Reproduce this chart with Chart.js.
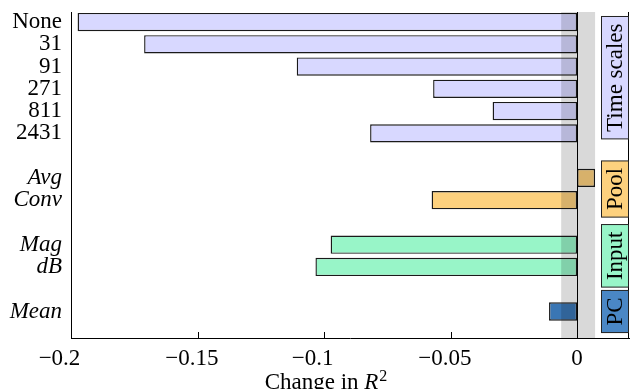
<!DOCTYPE html>
<html>
<head>
<meta charset="utf-8">
<script src="https://cdn.jsdelivr.net/npm/chart.js@4.4.0/dist/chart.umd.min.js"></script>
<style>
  html, body { margin: 0; padding: 0; background: #fff; }
  #wrap { width: 630px; height: 389px; }
</style>
</head>
<body>
<div id="wrap"><canvas id="r2_chart"></canvas></div>
<script>
const categories = ['None', '31', '91', '271', '811', '2431', 'Avg', 'Conv', 'Mag', 'dB', 'Mean'];
const changeR2 = [-0.1974, -0.1711, -0.1108, -0.0569, -0.0334, -0.0818, 0.0071, -0.0575, -0.0974, -0.1034, -0.0111];
const groupOf = [0, 0, 0, 0, 0, 0, 1, 1, 2, 2, 3];
const groupNames = ['Time scales', 'Pool', 'Input', 'PC'];
const barColors = ['#d8d8ff', '#fdd17e', '#98f5c8', '#3a76b4'];
const boxColors = ['#d8d8ff', '#fdd17e', '#98f5c8', '#4a87c5'];
const italicFrom = 6;
const xTicks = [-0.2, -0.15, -0.1, -0.05, 0];
const baseBand = [-0.0063, 0.0071];

const FONT = '"Liberation Serif", "Times New Roman", serif';
const FS = 23;

// one blank row between groups
const rows = categories.map((c, i) => i + groupOf[i]);

const extras = {
  id: 'extras',
  afterDatasetsDraw(chart) {
    const {ctx, chartArea: a, scales: {x, y}} = chart;
    ctx.save();

    // shaded band round zero, drawn over the bars
    const b0 = x.getPixelForValue(baseBand[0]);
    const b1 = x.getPixelForValue(baseBand[1]);
    ctx.fillStyle = 'rgba(0,0,0,0.15)';
    ctx.fillRect(b0, a.top, b1 - b0, a.bottom - a.top);

    ctx.strokeStyle = '#000';
    ctx.lineWidth = 1;
    const x0 = Math.round(x.getPixelForValue(0)) + 0.5;
    ctx.beginPath();
    ctx.moveTo(x0, a.top);
    ctx.lineTo(x0, a.bottom);
    // right spine
    ctx.moveTo(Math.round(a.right) - 0.5, a.top);
    ctx.lineTo(Math.round(a.right) - 0.5, a.bottom);
    // inward ticks
    xTicks.forEach(v => {
      const px = Math.round(x.getPixelForValue(v)) + 0.5;
      ctx.moveTo(px, a.bottom);
      ctx.lineTo(px, a.bottom - 6);
    });
    ctx.stroke();

    // group labels
    ctx.font = FS + 'px ' + FONT;
    groupNames.forEach((name, g) => {
      const r = rows.filter((v, i) => groupOf[i] === g);
      const yc = (y.getPixelForValue(Math.min(...r)) + y.getPixelForValue(Math.max(...r))) / 2;
      const h = ctx.measureText(name).width + 14;
      const bw = 27;
      const bx = Math.round(a.right) - bw - 0.5;
      ctx.fillStyle = boxColors[g];
      ctx.fillRect(bx, yc - h / 2, bw, h);
      ctx.strokeStyle = '#222';
      ctx.strokeRect(bx, yc - h / 2, bw, h);
      ctx.save();
      ctx.translate(bx + bw / 2 + 1, yc);
      ctx.rotate(-Math.PI / 2);
      ctx.fillStyle = '#000';
      ctx.textAlign = 'center';
      ctx.textBaseline = 'middle';
      ctx.fillText(name, 0, 0);
      ctx.restore();
    });

    // x axis title: Change in R^2
    const cx = a.left + (a.right - a.left) * 0.457;
    const base = 389;
    const p1 = 'Change in ';
    ctx.font = FS + 'px ' + FONT;
    const w1 = ctx.measureText(p1).width;
    ctx.font = 'italic ' + FS + 'px ' + FONT;
    const w2 = ctx.measureText('R').width;
    ctx.font = '16px ' + FONT;
    const w3 = ctx.measureText('2').width;
    let sx = cx - (w1 + w2 + w3 + 1) / 2;
    ctx.fillStyle = '#000';
    ctx.textAlign = 'left';
    ctx.textBaseline = 'alphabetic';
    ctx.font = FS + 'px ' + FONT;
    ctx.fillText(p1, sx, base);
    sx += w1;
    ctx.font = 'italic ' + FS + 'px ' + FONT;
    ctx.fillText('R', sx, base);
    sx += w2 + 1;
    ctx.font = '16px ' + FONT;
    ctx.fillText('2', sx, base - 8);

    ctx.restore();
  }
};

const ctx = document.getElementById('r2_chart');

new Chart(ctx, {
  type: 'bar',
  data: {
    datasets: [{
      data: changeR2.map((v, i) => ({x: v, y: rows[i]})),
      backgroundColor: groupOf.map(g => barColors[g]),
      borderColor: '#1a1a1a',
      borderWidth: 1.4,
      borderSkipped: false,
      barPercentage: 0.82,
      categoryPercentage: 1
    }]
  },
  options: {
    indexAxis: 'y',
    responsive: true,
    maintainAspectRatio: false,
    animation: false,
    events: [],
    layout: { padding: { top: 12, right: 1, left: 0, bottom: 0 } },
    plugins: {
      legend: { display: false },
      tooltip: { enabled: false }
    },
    scales: {
      x: {
        type: 'linear',
        min: -0.2,
        max: 0.0205,
        afterBuildTicks: s => { s.ticks = xTicks.map(v => ({value: v})); },
        afterFit: s => { s.height = 51; s.paddingLeft = 0; s.paddingRight = 0; },
        grid: { display: false, drawTicks: false },
        border: { display: true, color: '#000', width: 1 },
        ticks: {
          color: '#000',
          padding: 7,
          maxRotation: 0,
          font: { family: FONT, size: FS },
          callback: v => {
            if (v === 0) return '0';
            const s = String(Math.abs(v));
            return '\u2212' + s + (s.length > 3 ? '\u2002' : '\u2003');
          }
        }
      },
      y: {
        type: 'linear',
        reverse: true,
        offset: false,
        min: -0.45,
        max: 14.19,
        afterBuildTicks: s => { s.ticks = rows.map(v => ({value: v})); },
        afterFit: s => { s.width = 71; s.paddingTop = 0; s.paddingBottom = 0; },
        grid: { display: false, drawTicks: false },
        border: { display: true, color: '#000', width: 1 },
        ticks: {
          color: '#000',
          padding: 9,
          autoSkip: false,
          font: c => ({ family: FONT, size: FS, style: c.index >= italicFrom ? 'italic' : 'normal' }),
          callback: v => categories[rows.indexOf(v)]
        }
      }
    }
  },
  plugins: [extras]
});
</script>
</body>
</html>
